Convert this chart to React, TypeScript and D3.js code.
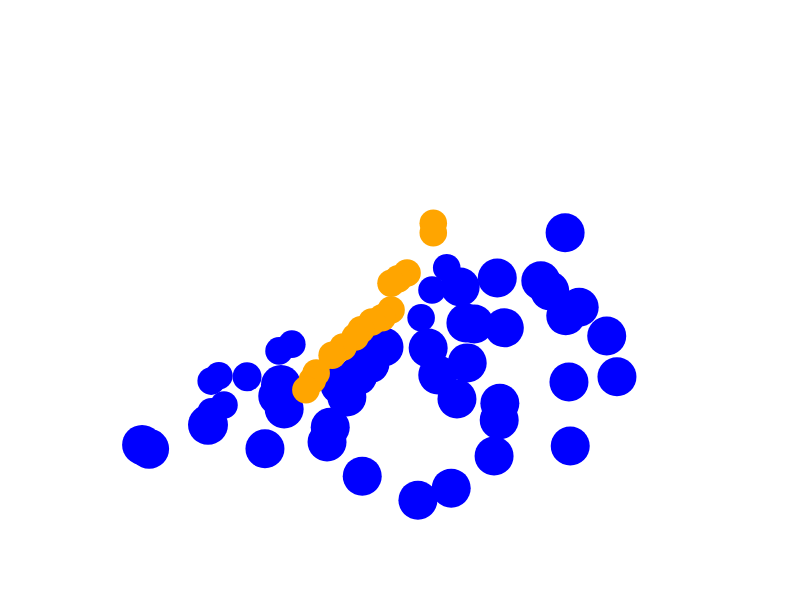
import React, { useEffect, useRef } from "react";
import * as d3 from "d3";

// blue series
const blueX = [9.7, 10.8, 28.9, 20.0, 22.5, 20.5, 20.5, 21.7, 26.1, 31.1, 33.1, 31.4, 31.9, 30.9, 39.1, 38.6, 44.1, 52.8, 58.0, 47.5, 45.3, 43.4, 41.7, 40.6, 53.3, 54.4, 55.9, 60.5, 58.9, 57.3, 55.0, 59.4, 65.2, 60.3, 61.6, 66.3, 65.6, 65.5, 64.7, 75.8, 72.0, 73.4, 78.0, 75.9, 82.3, 76.4, 83.9, 76.6];
const blueY = [19.8, 19.0, 19.0, 24.0, 28.1, 26.7, 33.1, 34.2, 34.0, 39.4, 40.8, 32.3, 27.3, 30.0, 23.5, 20.4, 13.3, 8.3, 10.8, 40.2, 36.7, 34.2, 29.8, 32.3, 46.3, 40.0, 34.4, 36.9, 29.4, 56.7, 52.1, 52.7, 54.6, 45.2, 45.0, 44.2, 28.5, 25.0, 17.5, 64.0, 54.0, 51.9, 48.5, 46.7, 42.5, 32.9, 34.0, 19.6];
const blueSize = [21, 21, 20, 21, 10, 10, 10, 10, 11, 10, 10, 21, 20, 20, 20, 20, 20, 20, 20, 20, 20, 20, 20, 20, 10, 20, 20, 20, 20, 10, 10, 20, 20, 20, 20, 20, 20, 20, 20, 20, 20, 20, 20, 20, 20, 20, 20, 20];

// orange series
const orangeX = [55.2, 55.2, 51.1, 49.7, 48.6, 48.6, 47.2, 45.6, 43.9, 43.0, 41.1, 39.4, 36.9, 36.3, 35.3];
const orangeY = [66.0, 64.0, 55.6, 54.4, 53.5, 47.9, 46.3, 45.4, 43.8, 42.3, 40.2, 38.5, 34.8, 33.3, 31.3];
const orangeSize = [10, 10, 10, 10, 10, 10, 10, 10, 10, 10, 10, 10, 10, 10, 10];

const width = 800;
const height = 600;

export default function App(): JSX.Element {
  const ref = useRef<SVGSVGElement>(null);

  useEffect(() => {
    const svg = d3.select(ref.current);
    svg.selectAll("*").remove();

    const x = d3.scaleLinear().domain([0, 100]).range([80, 720]);
    const y = d3.scaleLinear().domain([0, 100]).range([540, 60]);
    const r = d3.scaleSqrt().domain([0, 20]).range([0, 19.5]);

    const series = [
      { xs: blueX, ys: blueY, sizes: blueSize, color: "#0000ff" },
      { xs: orangeX, ys: orangeY, sizes: orangeSize, color: "#ffa500" },
    ];

    series.forEach((s) => {
      svg
        .append("g")
        .selectAll("circle")
        .data(s.xs.map((v, i) => ({ x: v, y: s.ys[i], size: s.sizes[i] })))
        .join("circle")
        .attr("cx", (d) => x(d.x))
        .attr("cy", (d) => y(d.y))
        .attr("r", (d) => r(d.size))
        .attr("fill", s.color);
    });
  }, []);

  return (
    <>
      <style>{"body{margin:0}"}</style>
      <svg ref={ref} width={width} height={height} style={{ display: "block", background: "#fff" }} />
    </>
  );
}
